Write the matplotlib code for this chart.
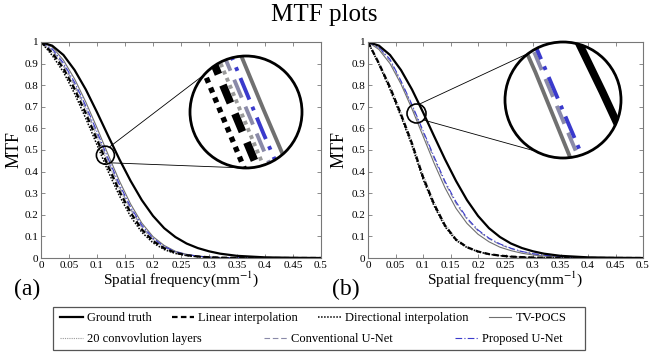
import numpy as np
import matplotlib
matplotlib.use("Agg")
import matplotlib.pyplot as plt
from matplotlib import font_manager
from matplotlib.patches import Circle, Ellipse, Rectangle
from matplotlib.lines import Line2D

# pick a Times-like serif that is really installed
serif = "DejaVu Serif"
for name in ["Liberation Serif", "Times New Roman", "Nimbus Roman"]:
    try:
        font_manager.findfont(name, fallback_to_default=False)
        serif = name
        break
    except ValueError:
        pass
plt.rcParams['font.family'] = [serif, 'DejaVu Serif']
plt.rcParams['mathtext.fontset'] = 'stix'

W, H = 649, 354

# spatial frequency samples (mm^-1)
freq = [0.0, 0.02, 0.04, 0.06, 0.08, 0.10, 0.12, 0.14, 0.16, 0.18, 0.20,
        0.22, 0.24, 0.26, 0.28, 0.30, 0.32, 0.35, 0.40, 0.45, 0.50]

ground_truth = [1.0, .983, .94, .87, .78, .675, .565, .457, .357, .268, .195,
                .138, .097, .067, .046, .031, .02, .01, .003, .001, 0.0]

# panel (a)
linear_a = [1.0, .95, .878, .782, .669, .548, .424, .309, .21, .132, .079,
            .045, .024, .013, .007, .0034, .0017, .0006, 0.0, 0.0, 0.0]
directional_a = [1.0, .938, .861, .761, .646, .524, .400, .288, .192, .119, .070,
                 .039, .021, .011, .006, .003, .0015, .0005, 0.0, 0.0, 0.0]
conv20_a = [1.0, .956, .886, .792, .681, .560, .436, .320, .219, .139, .083,
            .048, .026, .014, .0075, .0037, .0018, .0006, 0.0, 0.0, 0.0]
unet_a = [1.0, .962, .895, .803, .692, .572, .448, .330, .228, .145, .088,
          .051, .027, .015, .008, .004, .002, .0007, 0.0, 0.0, 0.0]
proposed_a = [1.0, .968, .903, .813, .704, .585, .46, .341, .236, .152, .092,
              .053, .029, .016, .0085, .0042, .002, .0007, 0.0, 0.0, 0.0]
tvpocs_a = [1.0, .977, .916, .829, .722, .603, .478, .357, .25, .162, .099,
            .058, .031, .017, .009, .0045, .0022, .0008, 0.0, 0.0, 0.0]

# panel (b)
linear_b = [1.0, .90, .79, .665, .53, .375, .25, .15, .085, .05, .03,
            .018, .011, .0065, .004, .0022, .0012, .0005, 0.0, 0.0, 0.0]
directional_b = [1.0, .895, .78, .655, .52, .365, .242, .145, .082, .048, .029,
                 .017, .0105, .006, .0037, .002, .0011, .0004, 0.0, 0.0, 0.0]
conv20_b = [1.0, .905, .80, .675, .54, .387, .26, .158, .09, .053, .032,
            .019, .0115, .007, .0042, .0024, .0013, .0005, 0.0, 0.0, 0.0]
tvpocs_b = [1.0, .965, .90, .805, .69, .565, .44, .325, .23, .16, .11,
            .075, .05, .034, .022, .014, .009, .004, .001, 0.0, 0.0]
unet_b = [1.0, .972, .912, .815, .703, .582, .462, .348, .253, .18, .126,
          .089, .062, .043, .029, .019, .012, .006, .002, .0005, 0.0]
proposed_b = [1.0, .975, .92, .82, .71, .59, .47, .355, .26, .185, .13,
              .092, .065, .045, .03, .02, .013, .006, .002, .0005, 0.0]

labels = {
    "gt": "Ground truth",
    "li": "Linear interpolation",
    "di": "Directional interpolation",
    "tv": "TV-POCS",
    "c20": "20 convovlution layers",
    "cu": "Conventional U-Net",
    "pu": "Proposed U-Net",
}

styles = {
    "gt": dict(color="black", lw=1.6, ls="-"),
    "li": dict(color="black", lw=1.6, ls=(0, (2.5, 1.5))),
    "di": dict(color="black", lw=1.1, ls=(0, (1, 1))),
    "tv": dict(color="#707070", lw=0.8, ls="-"),
    "c20": dict(color="#9a9a9a", lw=0.8, ls=(0, (1, 1))),
    "cu": dict(color="#8a8aa8", lw=0.8, ls=(0, (5, 2.5))),
    "pu": dict(color="#3a3acc", lw=0.8, ls=(0, (6, 2, 1, 2))),
}

draw_order = ["c20", "cu", "tv", "pu", "di", "li", "gt"]

curves_a = {"gt": ground_truth, "li": linear_a, "di": directional_a,
            "tv": tvpocs_a, "c20": conv20_a, "cu": unet_a, "pu": proposed_a}
curves_b = {"gt": ground_truth, "li": linear_b, "di": directional_b,
            "tv": tvpocs_b, "c20": conv20_b, "cu": unet_b, "pu": proposed_b}


def frac(x, y):
    return x / W, 1 - y / H


def setup_axes(ax, ylabel_x):
    ax.set_xlim(0, 0.5)
    ax.set_ylim(0, 1)
    ax.set_xticks(np.arange(0, 0.501, 0.05))
    ax.set_yticks(np.arange(0, 1.001, 0.1))
    ax.xaxis.set_major_formatter(plt.FuncFormatter(lambda v, p: f"{v:g}"))
    ax.yaxis.set_major_formatter(plt.FuncFormatter(lambda v, p: f"{v:g}"))
    ax.tick_params(direction="in", length=3, width=0.6, top=True, right=True,
                   labelsize=8, pad=2, color="#777777", labelcolor="black")
    for s in ax.spines.values():
        s.set_color("#777777")
        s.set_linewidth(0.8)
    ax.set_xlabel(r"Spatial frequency(mm$^{-1}$)", fontsize=11)
    ax.xaxis.label.set_va("center")
    ax.xaxis.set_label_coords(0.5, -0.1)
    ax.set_ylabel("MTF", fontsize=13)
    ax.yaxis.label.set_va("center")
    ax.yaxis.set_label_coords(ylabel_x, 0.5)


def draw_curves(ax, curves, scale=1.0, clip=None):
    for key in draw_order:
        st = dict(styles[key])
        st["lw"] = st["lw"] * scale
        line, = ax.plot(freq, curves[key], **st)
        if clip is not None:
            line.set_clip_path(clip)


def add_zoom(fig, ax, curves, centre, r_small, big_centre, r_big, links):
    # small circle on the main axes, in figure pixels
    disp = ax.transData.transform(centre)
    sx, sy = fig.transFigure.inverted().transform(disp)
    fig.add_artist(Ellipse((sx, sy), 2 * r_small / W, 2 * r_small / H,
                           transform=fig.transFigure, fill=False,
                           ec="black", lw=1.2))
    bx, by = frac(*big_centre)
    ins = fig.add_axes([bx - r_big / W, by - r_big / H,
                        2 * r_big / W, 2 * r_big / H])
    bbox = ax.get_window_extent()
    dx = r_small * 0.5 / bbox.width
    dy = r_small * 1.0 / bbox.height
    ins.set_xlim(centre[0] - dx, centre[0] + dx)
    ins.set_ylim(centre[1] - dy, centre[1] + dy)
    ins.axis("off")
    ins.add_patch(Circle((0.5, 0.5), 0.5, transform=ins.transAxes,
                         fc="white", ec="none", zorder=0))
    clip = Circle((0.5, 0.5), 0.5, transform=ins.transAxes)
    draw_curves(ins, curves, scale=3.5, clip=clip)
    ins.add_patch(Circle((0.5, 0.5), 0.5, transform=ins.transAxes,
                         fill=False, ec="black", lw=2.0, clip_on=False,
                         zorder=5))
    for a_small, a_big in links:
        t1, t2 = np.radians(a_small), np.radians(a_big)
        x1 = sx + r_small * np.cos(t1) / W
        y1 = sy + r_small * np.sin(t1) / H
        x2 = bx + r_big * np.cos(t2) / W
        y2 = by + r_big * np.sin(t2) / H
        fig.add_artist(Line2D([x1, x2], [y1, y2], transform=fig.transFigure,
                              color="black", lw=0.6))


fig = plt.figure(figsize=(W / 100, H / 100), dpi=100)
ax_a = fig.add_axes([41 / W, 1 - 258 / H, 280 / W, 216 / H])
ax_b = fig.add_axes([368 / W, 1 - 258 / H, 275 / W, 216 / H])

draw_curves(ax_a, curves_a)
draw_curves(ax_b, curves_b)
setup_axes(ax_a, -0.096)
setup_axes(ax_b, -0.105)

add_zoom(fig, ax_a, curves_a, (0.115, 0.476), 9, (246, 112), 56,
         [(64, 138), (-58, -91)])
add_zoom(fig, ax_b, curves_b, (0.0882, 0.669), 9.5, (563, 100), 58,
         [(75, 126), (-43, -118)])

fig.text(*frac(324.5, 15), "MTF plots", fontsize=18, ha="center", va="center")
fig.text(*frac(27.5, 289), "(a)", fontsize=17, ha="center", va="center")
fig.text(*frac(346, 289), "(b)", fontsize=17, ha="center", va="center")

# legend: two rows inside one frame
handles = {k: Line2D([], [], **styles[k]) for k in styles}
row1 = ["gt", "li", "di", "tv"]
row2 = ["c20", "cu", "pu"]
common = dict(loc="center left", frameon=False, borderpad=0, borderaxespad=0,
              handlelength=1.8, handletextpad=0.35, fontsize=9)
fig.legend([handles[k] for k in row1], [labels[k] for k in row1],
           bbox_to_anchor=frac(60, 318), ncol=4, columnspacing=1.6, **common)
fig.legend([handles[k] for k in row2], [labels[k] for k in row2],
           bbox_to_anchor=frac(60, 339), ncol=3, columnspacing=5.0, **common)
fig.add_artist(Rectangle(frac(53, 350), 532 / W, 43 / H,
                         transform=fig.transFigure, fill=False,
                         ec="#555555", lw=0.9))

fig.savefig("out.png", dpi=100)
